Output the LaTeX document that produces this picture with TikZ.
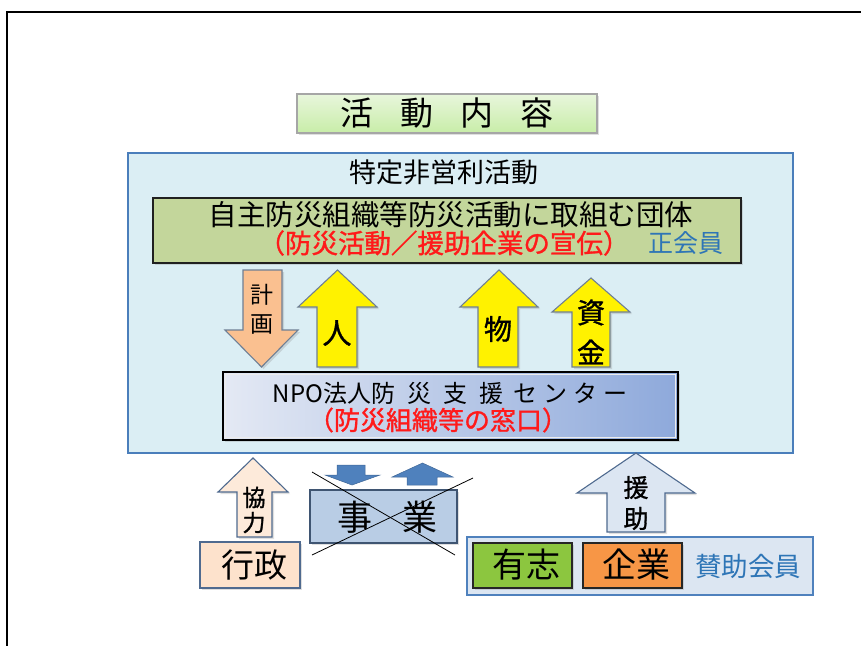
\documentclass[tikz,border=0pt]{standalone}
\usepackage{fontspec}
\newfontfamily\jp{Noto Sans CJK JP}
\newfontfamily\jpb[FakeBold=1.2]{Noto Sans CJK JP}
\usetikzlibrary{shadows}
\definecolor{bigfill}{HTML}{DBEEF4}
\definecolor{bigdraw}{HTML}{4A7EBB}
\definecolor{olive}{HTML}{C3D69B}
\definecolor{orgarrow}{HTML}{FAC090}
\definecolor{peachA}{HTML}{FDEADA}
\definecolor{peachB}{HTML}{FDE2CC}
\definecolor{bluegray}{HTML}{4F6A8F}
\definecolor{jigyo}{HTML}{B9CDE5}
\definecolor{midblue}{HTML}{4F81BD}
\definecolor{palblue}{HTML}{DCE6F2}
\definecolor{yushi}{HTML}{8CC63F}
\definecolor{kigyo}{HTML}{F79646}
\definecolor{txtblue}{HTML}{2E75B6}
\definecolor{txtred}{HTML}{FF1A1A}
\definecolor{npoL}{HTML}{E4E9F4}
\definecolor{npoR}{HTML}{8EA9DB}
\definecolor{ttlT}{HTML}{E8F6DC}
\definecolor{ttlB}{HTML}{C8EDA8}
\definecolor{arrdraw}{HTML}{6F7F94}
\tikzset{
  shd/.style={drop shadow={shadow xshift=2pt,shadow yshift=-2pt,opacity=0.25}},
  boxA/.style={draw=#1,line width=1.1pt},
  lbl/.style={font=\jp,inner sep=0pt,align=center},
  arrowshape/.style={draw=#1,line width=1.1pt,line join=miter}
}
\begin{document}
\begin{tikzpicture}[x=1pt,y=-1pt]
\useasboundingbox (0,0) rectangle (861,646);
% frame
\draw[line width=2pt] (861,12) -- (7,12) -- (7,646);

% title
\node[boxA=gray!70,shd,top color=ttlT,bottom color=ttlB,minimum width=300pt,minimum height=39pt,inner sep=0pt] (title) at (447,113.5) {};
\node[lbl,font=\jp\fontsize{33}{33}\selectfont] at (title) {活\hspace{27pt}動\hspace{27pt}内\hspace{27pt}容};

% big box
\draw[fill=bigfill,draw=bigdraw,line width=1.2pt] (128,153) rectangle (793,453);
\node[lbl,font=\jp\fontsize{27}{27}\selectfont] (npoact) at (444,172) {特定非営利活動};

% green box
\draw[fill=olive,draw=gray!25!black,line width=1.1pt,shd] (153,198) rectangle (741,263);
\node[lbl,font=\jp\fontsize{28.5}{28.5}\selectfont] (dantai) at (451,215) {自主防災組織等防災活動に取組む団体};
\node[lbl,font=\jpb\fontsize{26.5}{26.5}\selectfont,text=txtred] (senden) at (444,243) {（防災活動／援助企業の宣伝）};
\node[lbl,font=\jp\fontsize{25}{25}\selectfont,text=txtblue] (seikai) at (686,243) {正会員};

% arrows inside
\draw[arrowshape=arrdraw,fill=orgarrow,shd] (243,270) -- (282,270) -- (282,330) -- (298,330) -- (261.5,367) -- (225,330) -- (243,330) -- cycle;
\node[lbl,font=\jp\fontsize{23}{29}\selectfont] (keikaku) at (262,309) {計\\画};

\draw[arrowshape=arrdraw,fill=yellow,shd] (337.5,270) -- (377,307) -- (357,307) -- (357,367) -- (317,367) -- (317,307) -- (298,307) -- cycle;
\node[lbl,font=\jpb\fontsize{29}{29}\selectfont] (hito) at (337,333) {人};

\draw[arrowshape=arrdraw,fill=yellow,shd] (499,270) -- (538,307) -- (518,307) -- (518,367) -- (478,367) -- (478,307) -- (460,307) -- cycle;
\node[lbl,font=\jpb\fontsize{28}{28}\selectfont] (mono) at (498,329) {物};

\draw[arrowshape=arrdraw,fill=yellow,shd] (591,278) -- (630,312) -- (610,312) -- (610,367) -- (572,367) -- (572,312) -- (552,312) -- cycle;
\node[lbl,font=\jpb\fontsize{28}{40}\selectfont] (shikin) at (591,332) {資\\金};

% NPO box
\draw[left color=npoL,right color=npoR,draw=black,line width=2.6pt,shd] (223,372) rectangle (678,440);
\draw[white!85!gray,line width=0.6pt] (225.5,374.5) rectangle (675.5,437.5);
\node[lbl,font=\jp\fontsize{24}{24}\selectfont] (npo) at (450,393) {NPO法人防\hspace{12pt}災\hspace{12pt}支\hspace{12pt}援\hspace{10pt}セ\hspace{6pt}ン\hspace{6pt}タ\hspace{6pt}ー};
\node[lbl,font=\jpb\fontsize{26}{26}\selectfont,text=txtred] (madoguchi) at (438,420) {（防災組織等の窓口）};

% bottom left
\draw[arrowshape=bluegray,fill=peachA,shd] (253,458) -- (288,492) -- (272,492) -- (272,537) -- (237,537) -- (237,492) -- (218,492) -- cycle;
\node[lbl,font=\jpb\fontsize{23}{25}\selectfont] (kyoryoku) at (254,510) {協\\力};

\draw[fill=peachB,draw=bluegray,line width=1.1pt,shd] (200,542) rectangle (300,588);
\node[lbl,font=\jp\fontsize{33}{33}\selectfont] (gyosei) at (254,565) {行政};

% jigyo
\draw[fill=jigyo,draw=bluegray!80!black,line width=1.1pt,shd] (310,490) rectangle (457,543);
\node[lbl,font=\jp\fontsize{35}{35}\selectfont] (jigyo) at (387,517) {事\hspace{30pt}業};
\draw[fill=midblue,draw=midblue!80!black,line width=0.5pt] (337,465) -- (365,465) -- (365,475) -- (380,475) -- (352,485) -- (325,475) -- (337,475) -- cycle;
\draw[fill=midblue,draw=midblue!80!black,line width=0.5pt] (422.5,463) -- (453,477) -- (437,477) -- (437,485) -- (407,485) -- (407,477) -- (392,477) -- cycle;
\draw[line width=0.8pt] (312,472) -- (455,555);
\draw[line width=0.8pt] (312,555) -- (473,478);

% support
\draw[arrowshape=bluegray,fill=palblue,shd] (636,453) -- (695,493) -- (665,493) -- (665,532) -- (607,532) -- (607,493) -- (577,493) -- cycle;
\node[lbl,font=\jpb\fontsize{25}{31}\selectfont] (enjo) at (636,503) {援\\助};

\draw[fill=palblue,draw=midblue,line width=1.1pt] (467,537) rectangle (813,595);
\draw[fill=yushi,draw=gray!30!black,line width=1.1pt,shd] (473,543) rectangle (572,588);
\node[lbl,font=\jp\fontsize{34}{34}\selectfont] (yushi) at (526,565) {有志};
\draw[fill=kigyo,draw=gray!30!black,line width=1.1pt,shd] (583,543) rectangle (682,588);
\node[lbl,font=\jp\fontsize{34}{34}\selectfont] (kigyo) at (636,565) {企業};
\node[lbl,font=\jp\fontsize{26.5}{26.5}\selectfont,text=txtblue] (sanjo) at (748,566) {賛助会員};
\end{tikzpicture}
\end{document}
